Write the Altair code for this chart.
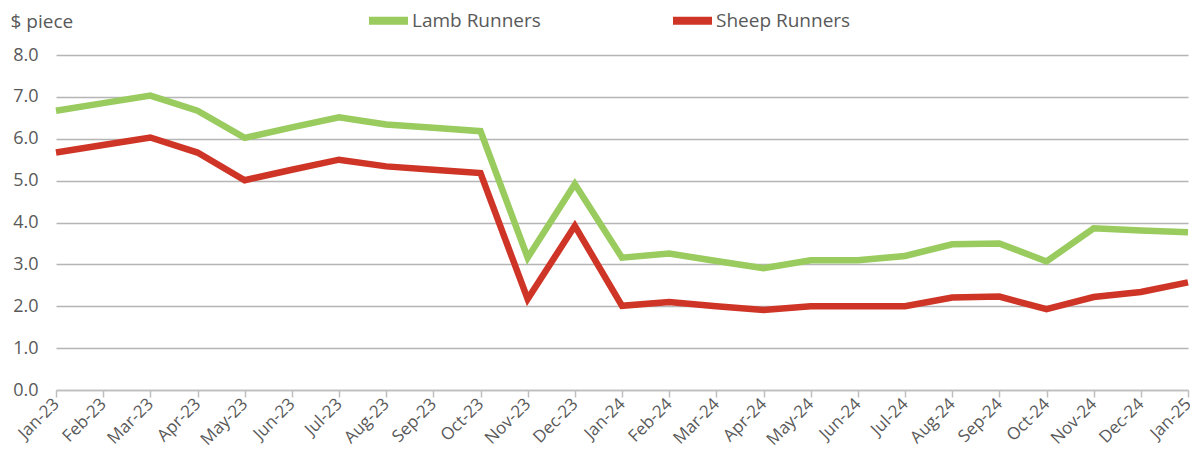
import altair as alt
import pandas as pd

months = ["Jan-23", "Feb-23", "Mar-23", "Apr-23", "May-23", "Jun-23", "Jul-23", "Aug-23",
          "Sep-23", "Oct-23", "Nov-23", "Dec-23", "Jan-24", "Feb-24", "Mar-24", "Apr-24",
          "May-24", "Jun-24", "Jul-24", "Aug-24", "Sep-24", "Oct-24", "Nov-24", "Dec-24", "Jan-25"]

lamb = [6.67, 6.85, 7.03, 6.67, 6.02, 6.27, 6.51, 6.34, 6.26, 6.18, 3.16, 4.92, 3.16, 3.26,
        3.08, 2.91, 3.10, 3.10, 3.20, 3.48, 3.50, 3.07, 3.86, 3.81, 3.77]
sheep = [5.67, 5.85, 6.03, 5.67, 5.01, 5.26, 5.50, 5.34, 5.26, 5.18, 2.17, 3.92, 2.01, 2.10,
         2.00, 1.91, 2.00, 2.00, 2.00, 2.21, 2.23, 1.93, 2.22, 2.34, 2.57]

series_names = ["Lamb Runners", "Sheep Runners"]
series_colors = ["#99CB5E", "#CF3526"]

rows = []
for name, vals in zip(series_names, [lamb, sheep]):
    for m, v in zip(months, vals):
        rows.append({"Month": m, "Value": v, "Series": name})
df = pd.DataFrame(rows)

FONT = "Open Sans"
TXT = "#595959"

chart = alt.Chart(df).mark_line(strokeWidth=6.5).encode(
    x=alt.X("Month:N", sort=months, scale=alt.Scale(type="point", padding=0),
            axis=alt.Axis(title=None, labelAngle=-45, labelAlign="right", labelBaseline="middle",
                          labelFontSize=17, labelColor=TXT, labelFont=FONT, labelPadding=4,
                          domainColor="#BFBFBF", domainWidth=1.5, tickColor="#BFBFBF",
                          tickWidth=1.5, tickSize=7, grid=False)),
    y=alt.Y("Value:Q", scale=alt.Scale(domain=[0, 8], nice=False),
            axis=alt.Axis(title="$ piece", values=[0, 1, 2, 3, 4, 5, 6, 7, 8], format=".1f",
                          labelFontSize=18, labelColor=TXT, labelFont=FONT, labelPadding=18,
                          domain=False, ticks=False, gridColor="#B5B5B5", gridWidth=1.5,
                          titleAngle=0, titleX=-46, titleY=-34, titleAlign="left",
                          titleBaseline="middle", titleFontSize=19, titleFontWeight="normal",
                          titleColor=TXT, titleFont=FONT)),
    color=alt.Color("Series:N", scale=alt.Scale(domain=series_names, range=series_colors),
                    legend=alt.Legend(title=None, orient="none", direction="horizontal",
                                      legendX=309, legendY=-58, symbolType="stroke",
                                      symbolSize=1521, symbolStrokeWidth=8, labelOffset=0,
                                      columnPadding=116, labelFontSize=19, labelColor=TXT,
                                      labelFont=FONT, padding=0)),
).properties(
    width=1132, height=335, autosize="none",
    padding={"left": 48, "top": 47, "right": 2, "bottom": 60},
).configure_view(stroke=None)

chart.save("out.html", embed_options={"renderer": "svg", "actions": False})
